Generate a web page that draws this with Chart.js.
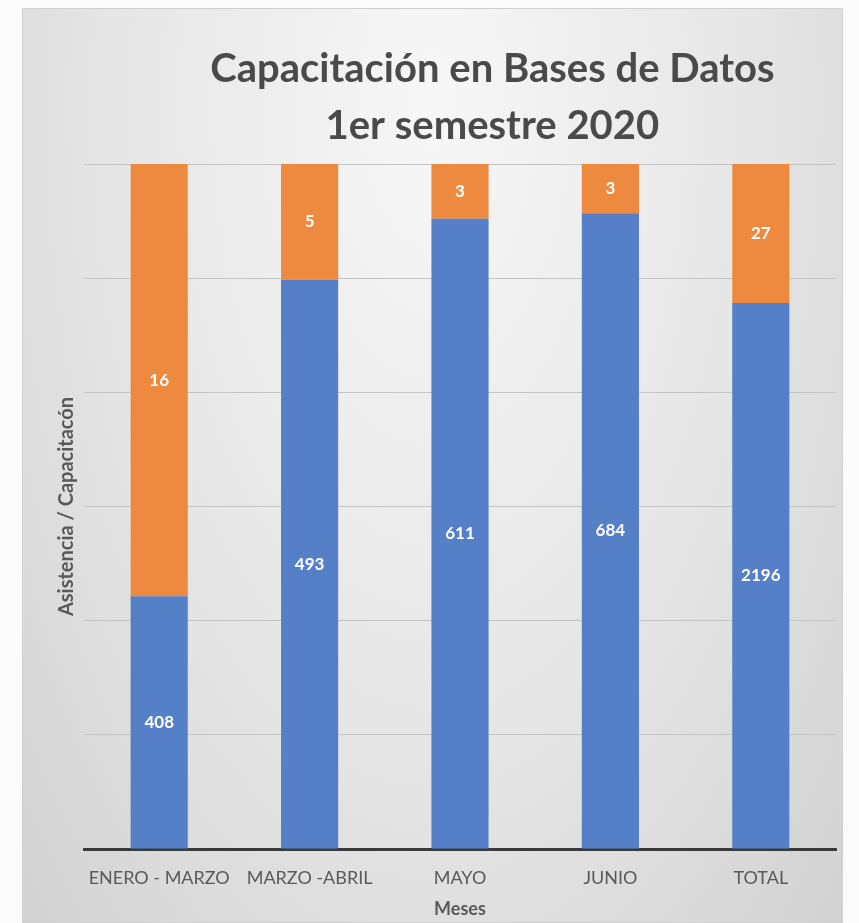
<!DOCTYPE html>
<html>
<head>
<meta charset="utf-8">
<script src="https://cdn.jsdelivr.net/npm/chart.js@4/dist/chart.umd.min.js"></script>
<style>
  html, body { margin: 0; padding: 0; background: #fbfbfb; }
  #frame {
    position: absolute; left: 22px; top: 8px; width: 821px; height: 915px;
    background: radial-gradient(ellipse at 50% 10%, #f7f7f7 0%, #e6e6e6 55%, #d2d2d2 100%);
    border: 1px solid #d0d0d0; box-sizing: border-box;
  }
  canvas { display: block; }
</style>
</head>
<body>
<div id="frame"><canvas id="chart" width="821" height="915"></canvas></div>
<script>
// Categories and data labels shown on the bars
const categories = ['ENERO - MARZO', 'MARZO -ABRIL', 'MAYO', 'JUNIO', 'TOTAL'];
const asistenciaLabels = [408, 493, 611, 684, 2196];
const capacitacionLabels = [16, 5, 3, 3, 27];

// Segment heights (share of the bar, %)
const asistenciaShare = [36.9, 83.1, 92.0, 92.8, 79.7];
const capacitacionShare = [63.1, 16.9, 8.0, 7.2, 20.3];

const titleLines = ['Capacitación en Bases de Datos', '1er semestre 2020'];

const colors = {
  blue: '#5580c8',
  orange: '#ee8a40',
  text: '#595959',
  title: '#4a4a4a',
  grid: '#c4c4c4',
  axis: '#3a3a3a'
};
const FONT = 'Lato, "Open Sans", sans-serif';

// Draws title, rotated y title and centered bar labels
const decorations = {
  id: 'decorations',
  afterDatasetsDraw(chart) {
    const { ctx, chartArea } = chart;
    ctx.save();
    ctx.fillStyle = colors.title;
    ctx.textAlign = 'center';
    ctx.textBaseline = 'alphabetic';
    ctx.font = `bold 40px ${FONT}`;
    const cx = chartArea.left + chartArea.width * 0.543;
    ctx.fillText(titleLines[0], cx, 73);
    ctx.fillText(titleLines[1], cx, 130);

    ctx.fillStyle = colors.text;
    ctx.textBaseline = 'middle';
    ctx.font = `bold 20px ${FONT}`;
    ctx.translate(chartArea.left - 17, (chartArea.top + chartArea.bottom) / 2);
    ctx.rotate(-Math.PI / 2);
    ctx.fillText('Asistencia / Capacitacón', 0, 0);
    ctx.restore();

    ctx.save();
    ctx.fillStyle = '#ffffff';
    ctx.font = `bold 17px ${FONT}`;
    ctx.textAlign = 'center';
    ctx.textBaseline = 'middle';
    const sets = [asistenciaLabels, capacitacionLabels];
    chart.data.datasets.forEach((ds, i) => {
      chart.getDatasetMeta(i).data.forEach((bar, j) => {
        const y = (bar.y + bar.base) / 2;
        ctx.fillText(String(sets[i][j]), bar.x, y);
      });
    });
    ctx.restore();
  }
};

new Chart(document.getElementById('chart'), {
  type: 'bar',
  data: {
    labels: categories,
    datasets: [
      {
        label: 'Asistencia',
        data: asistenciaShare,
        backgroundColor: colors.blue,
        borderWidth: 0,
        categoryPercentage: 1,
        barPercentage: 0.38
      },
      {
        label: 'Capacitación',
        data: capacitacionShare,
        backgroundColor: colors.orange,
        borderWidth: 0,
        categoryPercentage: 1,
        barPercentage: 0.38
      }
    ]
  },
  options: {
    responsive: false,
    animation: false,
    layout: { padding: { left: 61, right: 8, top: 155, bottom: 0 } },
    scales: {
      x: {
        stacked: true,
        afterFit: (scale) => { scale.height = 75; },
        grid: { display: false, drawTicks: false },
        border: { color: colors.axis, width: 3 },
        ticks: {
          color: colors.text,
          padding: 18,
          maxRotation: 0,
          font: { family: FONT, size: 18 }
        },
        title: {
          display: true,
          text: 'Meses',
          color: colors.text,
          padding: { top: 4, bottom: 4 },
          font: { family: FONT, size: 18, weight: 'bold' }
        }
      },
      y: {
        stacked: true,
        min: 0,
        max: 100,
        display: true,
        border: { display: false },
        grid: { color: colors.grid, lineWidth: 1, drawTicks: false },
        ticks: { display: false, stepSize: 100 / 6 }
      }
    },
    plugins: {
      legend: { display: false },
      tooltip: { enabled: false }
    }
  },
  plugins: [decorations]
});
</script>
</body>
</html>
